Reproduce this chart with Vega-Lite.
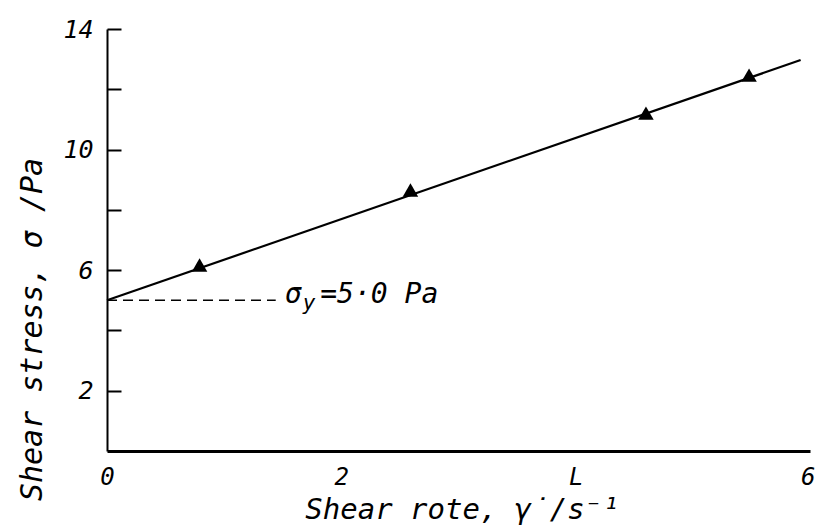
{
  "$schema": "https://vega.github.io/schema/vega-lite/v6.json",
  "width": 703,
  "height": 422,
  "autosize": {"type": "none"},
  "padding": {"left": 107, "top": 29, "right": 6, "bottom": 78},
  "background": "white",
  "config": {"view": {"stroke": null}, "font": "DejaVu Sans Mono"},
  "datasets": {
    "points": [
      {"rate": 0.79, "stress": 6.17},
      {"rate": 2.59, "stress": 8.66},
      {"rate": 4.6, "stress": 11.21},
      {"rate": 5.48, "stress": 12.47}
    ],
    "fit": [
      {"rate": 0, "stress": 5.0},
      {"rate": 5.92, "stress": 12.97}
    ],
    "yield": [
      {"rate": 0, "stress": 5.0},
      {"rate": 1.44, "stress": 5.0}
    ]
  },
  "layer": [
    {
      "data": {"name": "fit"},
      "mark": {"type": "line", "color": "black", "strokeWidth": 2.2},
      "encoding": {
        "x": {
          "field": "rate", "type": "quantitative",
          "scale": {"domain": [0, 6], "nice": false, "zero": false},
          "axis": {
            "orient": "bottom",
            "values": [0, 2, 4, 6],
            "labelExpr": "datum.value == 4 ? 'L' : format(datum.value, 'd')",
            "labelAlign": {"condition": {"test": "datum.value == 6", "value": "right"}, "value": "center"},
            "labelOffset": {"condition": {"test": "datum.value == 6", "value": 5}, "value": 0},
            "ticks": false,
            "grid": false,
            "domainColor": "black",
            "domainWidth": 3,
            "labelFont": "DejaVu Sans Mono",
            "labelFontStyle": "italic",
            "labelFontSize": 24,
            "labelColor": "black",
            "labelPadding": 14,
            "labelFlush": false,
            "labelOverlap": false,
            "title": "Shear rote, γ̇/s⁻¹",
            "titleFont": "DejaVu Sans Mono",
            "titleFontStyle": "italic",
            "titleFontWeight": "normal",
            "titleFontSize": 29,
            "titleColor": "black",
            "titleX": 355,
            "titleY": 58,
            "titleBaseline": "middle",
            "titleAlign": "center"
          }
        },
        "y": {
          "field": "stress", "type": "quantitative",
          "scale": {"domain": [0, 14], "nice": false, "zero": false},
          "axis": {
            "orient": "left",
            "values": [2, 4, 6, 8, 10, 12, 14],
            "labelExpr": "datum.value % 4 == 2 ? datum.label : ''",
            "tickSize": -14,
            "tickWidth": 2,
            "tickColor": "black",
            "grid": false,
            "domainColor": "black",
            "domainWidth": 2,
            "labelFont": "DejaVu Sans Mono",
            "labelFontStyle": "italic",
            "labelFontSize": 25,
            "labelColor": "black",
            "labelPadding": 28,
            "labelBaseline": "middle",
            "labelFlush": false,
            "labelOverlap": false,
            "title": "Shear stress, σ /Pa",
            "titleFont": "DejaVu Sans Mono",
            "titleFontStyle": "italic",
            "titleFontWeight": "normal",
            "titleFontSize": 30,
            "titleColor": "black",
            "titleAngle": -90,
            "titleX": -75,
            "titleY": 300,
            "titleBaseline": "middle",
            "titleAlign": "center"
          }
        }
      }
    },
    {
      "data": {"name": "yield"},
      "mark": {"type": "line", "color": "black", "strokeWidth": 1.6, "strokeDash": [10, 6]},
      "encoding": {
        "x": {"field": "rate", "type": "quantitative"},
        "y": {"field": "stress", "type": "quantitative"}
      }
    },
    {
      "data": {"name": "points"},
      "mark": {"type": "point", "shape": "triangle-up", "filled": true, "color": "black", "opacity": 1, "size": 240},
      "encoding": {
        "x": {"field": "rate", "type": "quantitative"},
        "y": {"field": "stress", "type": "quantitative"}
      }
    },
    {
      "data": {"values": [{"rate": 1.52, "stress": 5.0, "label": "σ"}]},
      "mark": {"type": "text", "align": "left", "baseline": "alphabetic", "dy": 3, "font": "DejaVu Sans Mono", "fontStyle": "italic", "fontSize": 28, "color": "black"},
      "encoding": {
        "x": {"field": "rate", "type": "quantitative"},
        "y": {"field": "stress", "type": "quantitative"},
        "text": {"field": "label"}
      }
    },
    {
      "data": {"values": [{"rate": 1.67, "stress": 5.0, "label": "y"}]},
      "mark": {"type": "text", "align": "left", "baseline": "alphabetic", "dy": 10, "font": "DejaVu Sans Mono", "fontStyle": "italic", "fontSize": 21, "color": "black"},
      "encoding": {
        "x": {"field": "rate", "type": "quantitative"},
        "y": {"field": "stress", "type": "quantitative"},
        "text": {"field": "label"}
      }
    },
    {
      "data": {"values": [{"rate": 1.82, "stress": 5.0, "label": "=5·0 Pa"}]},
      "mark": {"type": "text", "align": "left", "baseline": "alphabetic", "dy": 3, "font": "DejaVu Sans Mono", "fontStyle": "italic", "fontSize": 28, "color": "black"},
      "encoding": {
        "x": {"field": "rate", "type": "quantitative"},
        "y": {"field": "stress", "type": "quantitative"},
        "text": {"field": "label"}
      }
    }
  ]
}
